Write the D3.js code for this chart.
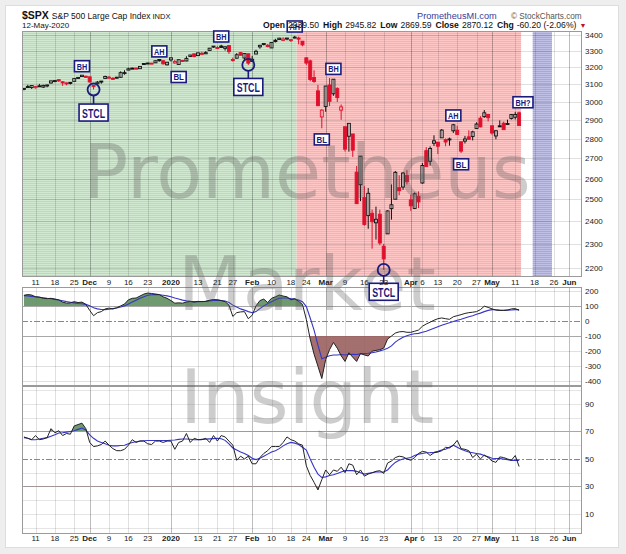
<!DOCTYPE html>
<html>
<head>
<meta charset="utf-8">
<script src="https://cdn.jsdelivr.net/npm/d3@7/dist/d3.min.js"></script>
<style>
  body { margin: 0; background: #eeeeee; }
  svg { display: block; font-family: "Liberation Sans", Arial, sans-serif; }
</style>
</head>
<body>
<svg id="chart" width="626" height="554"></svg>
<script>
// ---------- data
var tradingDays = [
  ["2019-11", [6,7,8,11,12,13,14,15,18,19,20,21,22,25,26,27,29]],
  ["2019-12", [2,3,4,5,6,9,10,11,12,13,16,17,18,19,20,23,24,26,27,30,31]],
  ["2020-01", [2,3,6,7,8,9,10,13,14,15,16,17,21,22,23,24,27,28,29,30,31]],
  ["2020-02", [3,4,5,6,7,10,11,12,13,14,18,19,20,21,24,25,26,27,28]],
  ["2020-03", [2,3,4,5,6,9,10,11,12,13,16,17,18,19,20,23,24,25,26,27,30,31]],
  ["2020-04", [1,2,3,6,7,8,9,13,14,15,16,17,20,21,22,23,24,27,28,29,30]],
  ["2020-05", [1,4,5,6,7,8,11,12,13,14,15,18,19,20,21,22,26,27,28,29]],
  ["2020-06", [1,2,3]]
];

var open = [
  3075.10,3087.02,3081.25,3080.33,3089.28,3084.18,3090.75,3107.92,3117.91,3127.45,3114.66,3108.49,3111.41,3117.44,3134.85,3145.49,3147.18,
  3143.85,3087.41,3103.50,3119.21,3134.62,3141.86,3135.36,3135.75,3141.23,3166.65,3183.63,3195.40,3195.21,3192.32,3223.33,3226.05,3225.45,3227.20,3247.23,3240.09,3215.18,
  3244.67,3226.36,3217.55,3241.86,3238.59,3266.03,3281.81,3271.13,3285.35,3282.27,3302.97,3323.66,3321.03,3330.02,3315.77,3333.10,3247.16,3255.35,3289.46,3256.45,3282.33,
  3235.66,3280.61,3324.91,3344.92,3335.54,3318.28,3365.87,3370.50,3365.90,3378.08,3369.04,3380.39,3380.45,3360.50,3257.61,3238.94,3139.90,3062.54,2916.90,
  2974.28,3096.46,3045.75,3075.70,2954.20,2863.89,2813.48,2825.60,2630.86,2569.99,2508.59,2425.66,2436.50,2393.48,2431.94,2290.71,2344.44,2457.77,2501.29,2555.87,2558.98,2614.69,
  2498.08,2458.54,2514.92,2578.28,2738.65,2685.00,2776.99,2782.46,2805.10,2795.64,2799.34,2842.43,2845.62,2784.81,2787.89,2810.42,2812.64,2854.65,2909.96,2918.46,2930.91,
  2869.09,2815.01,2868.88,2883.14,2878.26,2908.83,2915.46,2939.50
];
var high = [
  3078.34,3097.77,3093.09,3088.33,3102.61,3098.06,3098.20,3120.46,3124.17,3127.64,3118.97,3110.11,3112.87,3133.83,3142.69,3154.26,3150.30,
  3144.31,3094.97,3119.38,3119.45,3150.60,3148.87,3142.12,3143.98,3176.28,3182.68,3197.71,3198.22,3198.48,3205.48,3225.65,3227.78,3226.43,3240.08,3247.93,3240.92,3231.72,
  3258.14,3246.15,3246.84,3244.91,3267.07,3275.58,3282.99,3288.13,3294.25,3298.66,3317.11,3329.88,3329.79,3337.77,3326.88,3333.18,3258.85,3285.78,3293.47,3285.91,3282.33,
  3268.44,3306.92,3337.58,3347.96,3341.42,3352.26,3375.63,3381.47,3385.09,3380.69,3375.01,3393.52,3389.15,3360.76,3259.81,3246.99,3182.51,3097.07,2959.72,
  3090.96,3136.72,3130.97,3083.04,2985.93,2863.89,2882.59,2825.60,2660.95,2711.33,2562.98,2553.93,2453.57,2466.97,2453.01,2300.73,2449.71,2571.42,2637.01,2615.91,2631.80,2641.39,
  2522.75,2533.22,2538.18,2676.85,2756.89,2760.75,2818.57,2782.46,2851.85,2801.88,2806.51,2879.22,2868.98,2785.54,2815.10,2844.90,2842.71,2887.72,2921.15,2954.86,2930.91,
  2869.09,2844.24,2898.23,2891.11,2901.92,2932.16,2944.25,2945.82
];
var low = [
  3065.89,3080.23,3073.58,3075.82,3084.73,3078.80,3083.26,3104.60,3112.06,3113.47,3091.41,3094.55,3099.26,3117.44,3131.00,3143.41,3139.34,
  3110.78,3070.33,3102.53,3103.76,3134.62,3135.46,3126.09,3133.21,3138.47,3156.51,3183.63,3191.03,3191.14,3192.32,3216.03,3222.30,3220.51,3227.20,3234.37,3216.57,3212.03,
  3235.53,3222.34,3214.64,3232.43,3236.67,3263.67,3260.86,3268.43,3277.19,3280.69,3302.82,3318.86,3316.61,3320.04,3301.87,3281.53,3234.50,3253.22,3271.89,3242.80,3214.68,
  3235.66,3280.61,3313.75,3334.39,3322.12,3317.77,3352.72,3369.72,3360.52,3366.15,3355.61,3378.83,3341.02,3328.45,3214.65,3118.77,3108.99,2977.39,2855.84,
  2945.19,2976.63,3034.38,2999.83,2901.54,2734.43,2734.00,2707.22,2478.86,2492.37,2380.94,2367.04,2280.52,2319.78,2295.56,2191.86,2344.44,2407.53,2500.72,2520.02,2545.28,2571.15,
  2447.49,2455.79,2459.96,2574.57,2657.67,2663.30,2762.36,2721.17,2805.10,2761.54,2764.32,2830.88,2820.43,2727.10,2775.95,2794.26,2791.76,2852.89,2860.71,2912.16,2892.47,
  2821.61,2797.85,2863.55,2847.65,2876.48,2902.88,2903.44,2869.59
];
var close = [
  3076.78,3085.18,3093.08,3087.01,3091.84,3094.04,3096.63,3120.46,3122.03,3120.18,3108.46,3103.54,3110.29,3133.64,3140.52,3153.63,3140.98,
  3113.87,3093.20,3112.76,3117.43,3145.91,3135.96,3132.52,3141.63,3168.57,3168.80,3191.45,3192.52,3191.14,3205.37,3221.22,3224.01,3223.38,3239.91,3240.02,3221.29,3230.78,
  3257.85,3234.85,3246.28,3237.18,3253.05,3274.70,3265.35,3288.13,3283.15,3289.29,3316.81,3329.62,3320.79,3321.75,3325.54,3295.47,3243.63,3276.24,3273.40,3283.66,3225.52,
  3248.92,3297.59,3334.69,3345.78,3327.71,3352.09,3357.75,3379.45,3373.94,3380.16,3370.29,3386.15,3373.23,3337.75,3225.89,3128.21,3116.39,2978.76,2954.22,
  3090.23,3003.37,3130.12,3023.94,2972.37,2746.56,2882.23,2741.38,2480.64,2711.02,2386.13,2529.19,2398.10,2409.39,2304.92,2237.40,2447.33,2475.56,2630.07,2541.47,2626.65,2584.59,
  2470.50,2526.90,2488.65,2663.68,2659.41,2749.98,2789.82,2761.63,2846.06,2783.36,2799.55,2874.56,2823.16,2736.56,2799.31,2797.80,2836.74,2878.48,2863.39,2939.51,2912.43,
  2830.71,2842.74,2868.44,2848.42,2881.19,2929.80,2930.32,2870.12
];

var cci = [
  170,175,172,160,158,150,148,150,145,140,125,118,120,128,122,125,110,
  70,35,55,62,80,85,80,88,100,112,140,150,152,165,178,185,182,178,175,160,150,
  135,118,120,118,125,130,125,130,128,130,138,142,140,135,128,105,30,55,60,62,15,
  38,100,135,145,122,150,160,172,165,160,140,148,130,110,10,-120,-220,-300,-381,
  -255,-190,-142,-180,-230,-268,-210,-240,-268,-215,-225,-232,-200,-195,-190,-180,-120,-100,-80,-72,-70,-75,
  -75,-68,-60,-35,-20,-8,5,15,20,15,11,28,35,42,50,55,58,62,75,98,90,
  80,72,70,70,72,80,82,70
];
var cciAvg = [
  168,166,163,160,157,154,150,147,143,139,134,128,124,120,116,114,110,
  100,88,80,76,75,78,82,86,92,100,112,125,138,150,160,170,174,176,174,170,166,
  160,152,145,138,133,130,128,128,129,130,133,136,138,136,132,122,105,92,80,72,62,
  55,62,82,100,115,128,140,150,152,152,148,145,138,128,95,20,-60,-160,-250,
  -240,-230,-225,-225,-222,-225,-222,-220,-222,-218,-216,-214,-210,-205,-198,-190,-180,-165,-140,-122,-108,-98,
  -90,-85,-82,-75,-68,-58,-48,-38,-28,-20,-12,-4,5,12,20,28,35,45,52,62,70,
  75,74,72,71,72,73,75,75
];
var rsi = [
  66,65,64,67,64,64.5,65.5,72,69,70.5,67,68.5,68,74,75,76,72,
  62,59,59.5,60.5,63,60,57.5,56,56,57,60,64,62,63,63,61,60.5,63,63,62,63,
  63,57,62,63,68.5,62,65,64,64,65,62,67,63,67,66,63,60,49,52,50,52,
  46.5,46.5,51,54,56,59,59,59,62,66,64,63,61,60,45,38,33,27.5,35,
  42,38.5,42,41,44,40,46.5,45.5,38.5,42,37.5,39,40,41,41.5,39.5,47,48.5,51,52,51.5,50,
  49,51,54,55.5,55,52.5,54.5,55,56,58.5,58,60,63.5,57.5,57,56,51,53.5,50,52.8,51,
  48.5,47.5,51.5,51,50,49,52.5,44.5
];
var rsiAvg = [
  65.5,65,64,64,64.5,65,65.5,66.5,67.5,68.8,69,69.5,70,70.5,71.5,72.5,71,
  67.5,65,63,62,61,60,59.5,59.5,59.8,60,61,62,62.5,63,63.2,63.4,63.4,63.4,63.4,63.4,63.4,
  63.6,63.8,64.2,64.5,64.5,64.3,64,64,64.2,64.4,64.6,64.8,65,64.7,63.5,61,58,56.5,55,54,52.5,
  50.5,49.5,50.5,52,53.5,55,56,57.5,59.5,61,62,61.5,60.5,58.5,56.5,50,44,39,36.5,
  37,38,38.5,39.5,40.5,41.5,41.5,41.5,41,40,39,39.5,40,40.5,40.5,40.5,42,45,47.5,49,50,50.5,
  51,52.5,53.5,54,54.5,54.6,54.8,55.5,56.5,57,58.5,60,58.5,57,56,55,54.5,54,53.5,52.5,51.5,
  50.5,50.3,50.2,50,49.5,49,49,49
];

var priceTicks = [2200,2300,2400,2500,2600,2700,2800,2900,3000,3100,3200,3300,3400];
var cciTicks = [200,100,0,-100,-200,-300,-400];
var rsiTicks = [90,70,50,30,10];
var rsiGrid = [0,10,20,30,40,50,60,70,80,90,100];
var dateTicks = [
  ["2019-11-11","11"],["2019-11-18","18"],["2019-11-25","25"],["2019-12-02","Dec"],
  ["2019-12-09","9"],["2019-12-16","16"],["2019-12-23","23"],["2020-01-02","2020"],
  ["2020-01-13","13"],["2020-01-21","21"],["2020-01-27","27"],["2020-02-03","Feb"],
  ["2020-02-10","10"],["2020-02-18","18"],["2020-02-24","24"],["2020-03-02","Mar"],
  ["2020-03-09","9"],["2020-03-16","16"],["2020-03-23","23"],["2020-04-01","Apr"],
  ["2020-04-06","6"],["2020-04-13","13"],["2020-04-20","20"],["2020-04-27","27"],
  ["2020-05-01","May"],["2020-05-11","11"],["2020-05-18","18"],["2020-05-26","26"],
  ["2020-06-01","Jun"]
];
var majorTicks = ["Dec","2020","Feb","Mar","Apr","May","Jun"];

var zones = [
  { from: "2019-11-06", to: "2020-02-19", pattern: "zGreen" },
  { from: "2020-02-20", to: "2020-05-12", pattern: "zPink" },
  { from: "2020-05-18", to: "2020-05-22", pattern: "zBlue" }
];

// labels sit at a date and a price; STCL ones also circle that day's low
var notes = [
  { date: "2019-11-27", price: 3207, text: "BH" },
  { date: "2019-12-03", price: 2941, text: "STCL", ring: true },
  { date: "2019-12-27", price: 3297, text: "AH" },
  { date: "2020-01-06", price: 3143, text: "BL" },
  { date: "2020-01-22", price: 3390, text: "BH" },
  { date: "2020-01-31", price: 3085, text: "STCL", ring: true },
  { date: "2020-02-19", price: 3454, text: "AH" },
  { date: "2020-03-04", price: 3191, text: "BH" },
  { date: "2020-02-28", price: 2797, text: "BL" },
  { date: "2020-03-23", price: 2104, text: "STCL", ring: true },
  { date: "2020-04-17", price: 2925, text: "AH" },
  { date: "2020-04-21", price: 2670, text: "BL" },
  { date: "2020-05-13", price: 2998, text: "BH?" }
];

// last bar summary as printed in the header
var quote = [["Open", "2939.50"], ["High", "2945.82"], ["Low", "2869.59"], ["Close", "2870.12"], ["Chg", "-60.20 (-2.06%)"]];

// ---------- setup
var dates = [];
tradingDays.forEach(function(m) {
  m[1].forEach(function(d) { dates.push(m[0] + "-" + (d < 10 ? "0" : "") + d); });
});
var idx = function(d) { return dates.indexOf(d); };

var left = 22, right = 581;
var priceP = { top: 31, bottom: 276 };
var cciP = { top: 287, bottom: 385 };
var rsiP = { top: 386, bottom: 533 };
var navy = "#1b1b7d";
var red = "#e0102c";

var x = d3.scaleLinear().domain([-0.5, 144]).range([left, right]);
var yP = d3.scaleLog().domain([2167, 3425]).range([priceP.bottom, priceP.top]);
var yC = d3.scaleLinear().domain([-424, 225]).range([cciP.bottom, cciP.top]);
var yR = d3.scaleLinear().domain([-3.8, 103]).range([rsiP.bottom, rsiP.top]);

var svg = d3.select("#chart");
var defs = svg.append("defs");

// ---------- striped zone fills
[["zGreen", "#b8dbb8", "#d0e9d0"], ["zPink", "#ffadad", "#ffc6c6"], ["zBlue", "#a7a7da", "#c0c0e6"]]
  .forEach(function(p) {
    var pat = defs.append("pattern").attr("id", p[0])
      .attr("patternUnits", "userSpaceOnUse").attr("width", 4).attr("height", 2);
    pat.append("rect").attr("width", 4).attr("height", 2).attr("fill", p[1]);
    pat.append("rect").attr("width", 4).attr("height", 1).attr("fill", p[2]);
  });

function clip(id, y0, y1) {
  defs.append("clipPath").attr("id", id).append("rect")
    .attr("x", left).attr("y", y0).attr("width", right - left).attr("height", y1 - y0);
}
clip("clipPrice", priceP.top, priceP.bottom);
clip("cciUp", cciP.top, yC(100));
clip("cciDn", yC(-100), cciP.bottom);
clip("rsiUp", rsiP.top, yR(70));
clip("rsiDn", yR(30), rsiP.bottom);

// ---------- card
svg.append("rect").attr("width", 626).attr("height", 554).attr("fill", "#eeeeee");
svg.append("rect").attr("x", 5.5).attr("y", 5.5).attr("width", 613).attr("height", 542)
  .attr("fill", "#fff").attr("stroke", "#dddddd");

// ---------- zones
svg.append("g").selectAll("rect").data(zones).join("rect")
  .attr("x", function(d) { return x(idx(d.from) - 0.5); })
  .attr("y", priceP.top)
  .attr("width", function(d) { return x(idx(d.to) + 0.5) - x(idx(d.from) - 0.5); })
  .attr("height", priceP.bottom - priceP.top)
  .attr("fill", function(d) { return "url(#" + d.pattern + ")"; });

// ---------- grids
var grid = svg.append("g").attr("shape-rendering", "crispEdges");
[priceP, cciP, rsiP].forEach(function(p) {
  grid.selectAll(null).data(dateTicks).join("line")
    .attr("x1", function(d) { return Math.round(x(idx(d[0]))) + 0.5; })
    .attr("x2", function(d) { return Math.round(x(idx(d[0]))) + 0.5; })
    .attr("y1", p.top).attr("y2", p.bottom)
    .attr("stroke", "#000")
    .attr("stroke-opacity", function(d) { return majorTicks.indexOf(d[1]) >= 0 ? 0.26 : 0.12; });
});
grid.selectAll(null).data(priceTicks).join("line")
  .attr("x1", left).attr("x2", right)
  .attr("y1", function(d) { return Math.round(yP(d)) + 0.5; })
  .attr("y2", function(d) { return Math.round(yP(d)) + 0.5; })
  .attr("stroke", "#000").attr("stroke-opacity", 0.12);
grid.selectAll(null).data(cciTicks.filter(function(d) { return Math.abs(d) !== 100 && d !== 0; })).join("line")
  .attr("x1", left).attr("x2", right)
  .attr("y1", function(d) { return Math.round(yC(d)) + 0.5; })
  .attr("y2", function(d) { return Math.round(yC(d)) + 0.5; })
  .attr("stroke", "#000").attr("stroke-opacity", 0.12);
grid.selectAll(null).data(rsiGrid.filter(function(d) { return [30, 50, 70].indexOf(d) < 0; })).join("line")
  .attr("x1", left).attr("x2", right)
  .attr("y1", function(d) { return Math.round(yR(d)) + 0.5; })
  .attr("y2", function(d) { return Math.round(yR(d)) + 0.5; })
  .attr("stroke", "#000").attr("stroke-opacity", 0.1);

// reference levels
function level(y, dash) {
  grid.append("line").attr("x1", left).attr("x2", right)
    .attr("y1", Math.round(y) + 0.5).attr("y2", Math.round(y) + 0.5)
    .attr("stroke", dash ? "#888" : "#a8a8a8").attr("stroke-width", dash ? 1 : 1.4)
    .attr("stroke-dasharray", dash ? "6,2,2,2" : null);
}
level(yC(100)); level(yC(-100)); level(yC(0), true);
level(yR(70)); level(yR(30)); level(yR(50), true);

// ---------- candles
var candles = svg.append("g").attr("clip-path", "url(#clipPrice)");
var bars = candles.selectAll("g").data(close).join("g");
function barColor(d, i) { return (i > 0 && d < close[i - 1]) ? red : "#111"; }
bars.append("line")
  .attr("x1", function(d, i) { return x(i); }).attr("x2", function(d, i) { return x(i); })
  .attr("y1", function(d, i) { return yP(high[i]); })
  .attr("y2", function(d, i) { return yP(low[i]); })
  .attr("stroke", barColor).attr("stroke-width", 1);
bars.append("rect")
  .attr("x", function(d, i) { return x(i) - 1.5; })
  .attr("width", 3)
  .attr("y", function(d, i) { return yP(Math.max(open[i], d)); })
  .attr("height", function(d, i) { return Math.max(1, yP(Math.min(open[i], d)) - yP(Math.max(open[i], d))); })
  .attr("fill", function(d, i) { return d < open[i] ? barColor(d, i) : "#fff"; })
  .attr("fill-opacity", function(d, i) { return d < open[i] ? 1 : 0.45; })
  .attr("stroke", barColor).attr("stroke-width", 0.9);

// ---------- CCI
var cciArea = function(base) {
  return d3.area().x(function(d, i) { return x(i); }).y0(yC(base)).y1(function(d) { return yC(d); });
};
svg.append("path").datum(cci).attr("d", cciArea(100)).attr("fill", "#5f8f5f").attr("fill-opacity", 0.9)
  .attr("clip-path", "url(#cciUp)");
svg.append("path").datum(cci).attr("d", cciArea(-100)).attr("fill", "#9a5f5f").attr("fill-opacity", 0.9)
  .attr("clip-path", "url(#cciDn)");
var cciLine = d3.line().x(function(d, i) { return x(i); }).y(function(d) { return yC(d); });
svg.append("path").datum(cciAvg).attr("d", cciLine).attr("fill", "none").attr("stroke", "#3535c8").attr("stroke-width", 1.1);
svg.append("path").datum(cci).attr("d", cciLine).attr("fill", "none").attr("stroke", "#222").attr("stroke-width", 1);

// ---------- RSI
var rsiArea = function(base) {
  return d3.area().x(function(d, i) { return x(i); }).y0(yR(base)).y1(function(d) { return yR(d); });
};
svg.append("path").datum(rsi).attr("d", rsiArea(70)).attr("fill", "#5f8f5f").attr("fill-opacity", 0.9)
  .attr("clip-path", "url(#rsiUp)");
svg.append("path").datum(rsi).attr("d", rsiArea(30)).attr("fill", "#9a5f5f").attr("fill-opacity", 0.9)
  .attr("clip-path", "url(#rsiDn)");
var rsiLine = d3.line().x(function(d, i) { return x(i); }).y(function(d) { return yR(d); });
svg.append("path").datum(rsiAvg).attr("d", rsiLine).attr("fill", "none").attr("stroke", "#3535c8").attr("stroke-width", 1.1);
svg.append("path").datum(rsi).attr("d", rsiLine).attr("fill", "none").attr("stroke", "#222").attr("stroke-width", 1);

// ---------- panel frames
[priceP, cciP, rsiP].forEach(function(p) {
  svg.append("rect").attr("x", left + 0.5).attr("y", p.top + 0.5)
    .attr("width", right - left).attr("height", p.bottom - p.top)
    .attr("fill", "none").attr("stroke", "#9a9a9a").attr("shape-rendering", "crispEdges");
});

// ---------- watermark
var mark = svg.append("g").attr("font-family", "'DejaVu Sans', sans-serif")
  .attr("font-size", 75).attr("text-anchor", "middle")
  .attr("fill", "#5a5a5a").attr("fill-opacity", 0.3);
[["Prometheus", 198], ["Market", 310], ["Insight", 423]].forEach(function(w) {
  mark.append("text").attr("x", 307).attr("y", w[1]).text(w[0]);
});

// ---------- annotations
var ann = svg.append("g");
notes.forEach(function(n) {
  var i = idx(n.date);
  var cx = x(i), cy = yP(n.price);
  var big = n.text === "STCL";
  var w = big ? 29 : (n.text.length > 2 ? 20 : 15), h = big ? 17 : 11;
  if (n.ring) {
    var ry = yP(low[i]);
    ann.append("line").attr("x1", cx).attr("x2", cx).attr("y1", ry + 6).attr("y2", cy - h / 2)
      .attr("stroke", navy).attr("stroke-width", 1.6);
    ann.append("circle").attr("cx", cx).attr("cy", ry).attr("r", 6)
      .attr("fill", "none").attr("stroke", navy).attr("stroke-width", 1.8);
  }
  ann.append("rect").attr("x", cx - w / 2).attr("y", cy - h / 2).attr("width", w).attr("height", h)
    .attr("fill", "#fff").attr("stroke", navy).attr("stroke-width", 1.6);
  ann.append("text").attr("x", cx).attr("y", cy + (big ? 5 : 3.5))
    .attr("text-anchor", "middle").attr("font-weight", "bold")
    .attr("font-size", big ? 13 : 9).attr("fill", navy)
    .attr("textLength", big ? 23 : (n.text.length > 2 ? 15 : 10.5))
    .attr("lengthAdjust", "spacingAndGlyphs")
    .text(n.text);
});

// ---------- date labels
[285, 541].forEach(function(yy) {
  svg.append("g").selectAll("text").data(dateTicks).join("text")
    .attr("x", function(d) { return x(idx(d[0])); })
    .attr("y", yy)
    .attr("text-anchor", "middle").attr("font-size", 8).attr("fill", "#222")
    .attr("font-weight", function(d) { return majorTicks.indexOf(d[1]) >= 0 ? "bold" : "normal"; })
    .text(function(d) { return d[1]; });
});

// ---------- right axes
function rightLabels(ticks, scale) {
  svg.append("g").selectAll("text").data(ticks).join("text")
    .attr("x", 585).attr("y", function(d) { return scale(d) + 3; })
    .attr("font-size", 8).attr("fill", "#222")
    .text(function(d) { return d; });
}
rightLabels(priceTicks, yP);
rightLabels(cciTicks, yC);
rightLabels(rsiTicks, yR);

// ---------- header
var t1 = svg.append("text").attr("x", 22).attr("y", 19).attr("fill", "#111");
t1.append("tspan").attr("font-size", 10.5).attr("font-weight", "bold").text("$SPX");
t1.append("tspan").attr("font-size", 8.5).attr("dx", 3).text("S&P 500 Large Cap Index");
t1.append("tspan").attr("font-size", 7.5).attr("dx", 2).text("INDX");

svg.append("text").attr("x", 22).attr("y", 28).attr("font-size", 8).attr("fill", "#111").text("12-May-2020");

var t2 = svg.append("text").attr("x", 263).attr("y", 28).attr("font-size", 8.6).attr("fill", "#111");
quote.forEach(function(p, k) {
  t2.append("tspan").attr("font-weight", "bold").attr("dx", k ? 4 : 0).text(p[0]);
  t2.append("tspan").attr("dx", 3).text(p[1]);
});
t2.append("tspan").attr("dx", 3).attr("fill", "#c0102a").attr("font-size", 7).text("\u25BC");

svg.append("text").attr("x", 417).attr("y", 19).attr("font-size", 9.2).attr("fill", "#3b3b96")
  .text("PrometheusMI.com");
svg.append("text").attr("x", 511).attr("y", 19).attr("font-size", 8.2).attr("fill", "#555")
  .text("\u00A9 StockCharts.com");
</script>
</body>
</html>
